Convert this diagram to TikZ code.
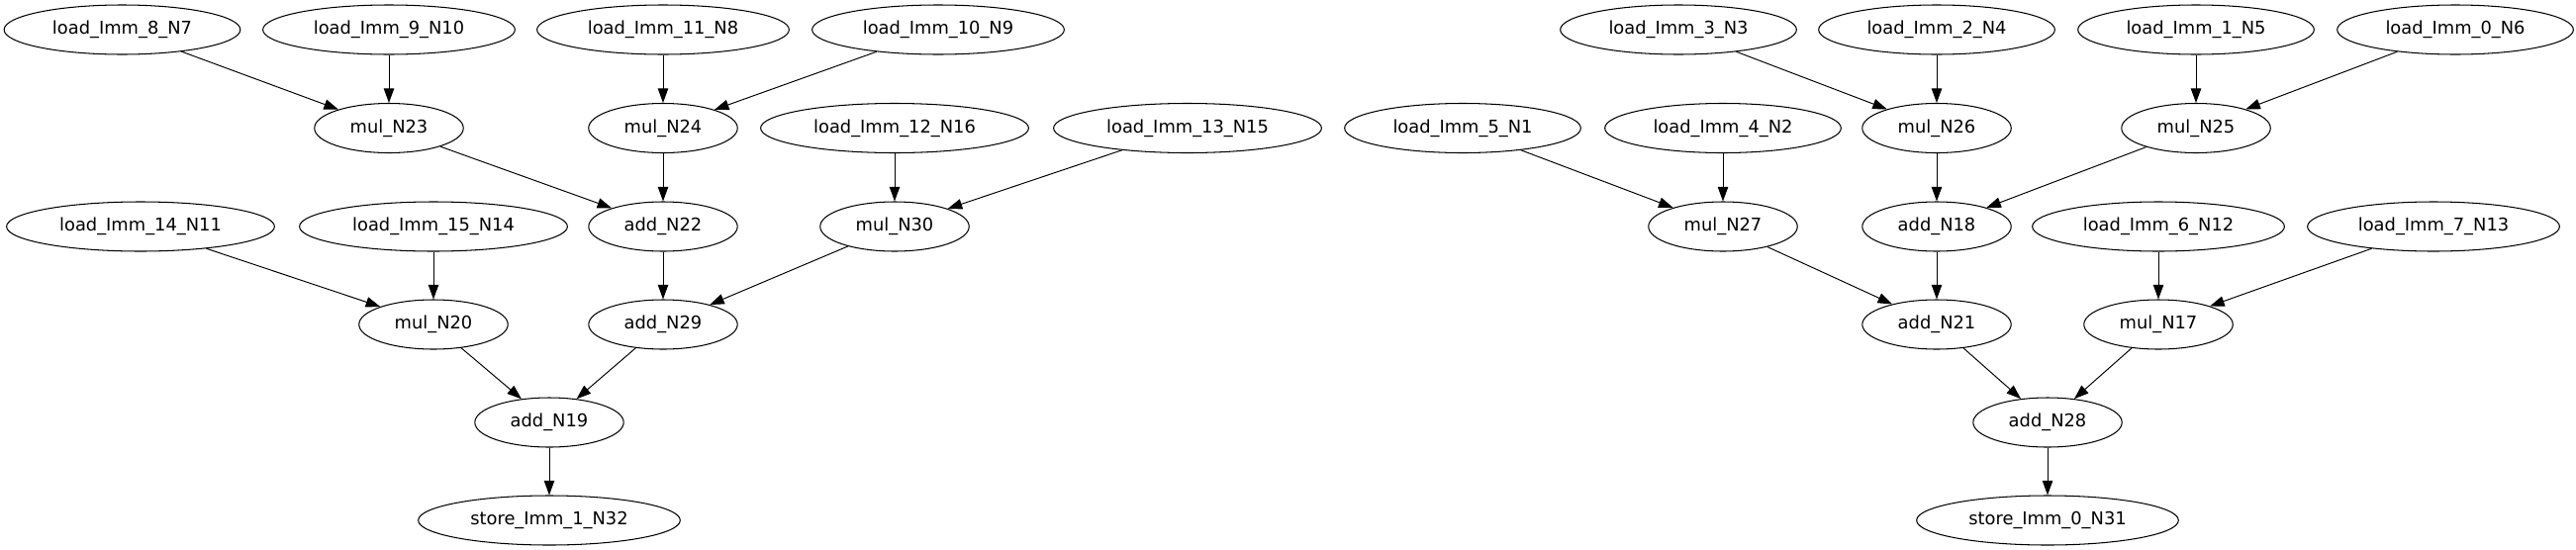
\documentclass[tikz,border=0pt]{standalone}
\usepackage{fontspec}
\setmainfont{DejaVu Sans}
\usetikzlibrary{shapes.geometric,arrows.meta}

\begin{document}
\begin{tikzpicture}[x=0.72pt, y=-0.72pt,
        op/.style={ellipse, draw, line width=0.75pt, inner xsep=10pt, inner ysep=2pt,
            minimum height=36pt, font=\fontsize{12.85}{15}\selectfont},
        edge/.style={-{Triangle[length=10.5pt,width=7.5pt]}, line width=0.7pt}]
                \useasboundingbox (0, 0) rectangle (2603, 555);
                \node[op] (n7) at (123.5, 30) {load\_Imm\_8\_N7};
                \node[op] (n10) at (393, 30) {load\_Imm\_9\_N10};
                \node[op] (n8) at (670, 30) {load\_Imm\_11\_N8};
                \node[op] (n9) at (948, 30) {load\_Imm\_10\_N9};
                \node[op] (n3) at (1696, 30) {load\_Imm\_3\_N3};
                \node[op] (n4) at (1957, 30) {load\_Imm\_2\_N4};
                \node[op] (n5) at (2219, 30) {load\_Imm\_1\_N5};
                \node[op] (n6) at (2481, 30) {load\_Imm\_0\_N6};
                \node[op] (n23) at (393, 129.5) {mul\_N23};
                \node[op] (n24) at (670, 129.5) {mul\_N24};
                \node[op] (n16) at (904, 129.5) {load\_Imm\_12\_N16};
                \node[op] (n15) at (1200, 129.5) {load\_Imm\_13\_N15};
                \node[op] (n1) at (1478, 129.5) {load\_Imm\_5\_N1};
                \node[op] (n2) at (1741, 129.5) {load\_Imm\_4\_N2};
                \node[op] (n26) at (1957, 129.5) {mul\_N26};
                \node[op] (n25) at (2219, 129.5) {mul\_N25};
                \node[op] (n11) at (142, 229) {load\_Imm\_14\_N11};
                \node[op] (n14) at (438, 229) {load\_Imm\_15\_N14};
                \node[op] (n22) at (670, 229) {add\_N22};
                \node[op] (n30) at (904, 229) {mul\_N30};
                \node[op] (n27) at (1741, 229) {mul\_N27};
                \node[op] (n18) at (1957, 229) {add\_N18};
                \node[op] (n12) at (2181, 229) {load\_Imm\_6\_N12};
                \node[op] (n13) at (2459, 229) {load\_Imm\_7\_N13};
                \node[op] (n20) at (438, 328) {mul\_N20};
                \node[op] (n29) at (670, 328) {add\_N29};
                \node[op] (n21) at (1957, 328) {add\_N21};
                \node[op] (n17) at (2181, 328) {mul\_N17};
                \node[op] (n19) at (555, 427) {add\_N19};
                \node[op] (n28) at (2069, 427) {add\_N28};
                \node[op] (n32) at (555, 526) {store\_Imm\_1\_N32};
                \node[op] (n31) at (2069, 526) {store\_Imm\_0\_N31};
                \foreach \a/\b in {n7/n23, n10/n23, n8/n24, n9/n24, n23/n22, n24/n22,
                        n16/n30, n15/n30, n22/n29, n30/n29, n11/n20, n14/n20,
                        n20/n19, n29/n19, n19/n32,
                        n3/n26, n4/n26, n5/n25, n6/n25, n1/n27, n2/n27,
                        n26/n18, n25/n18, n27/n21, n18/n21, n12/n17, n13/n17,
                        n21/n28, n17/n28, n28/n31}
                    \draw[edge] (\a) -- (\b);
            \end{tikzpicture}
\end{document}
